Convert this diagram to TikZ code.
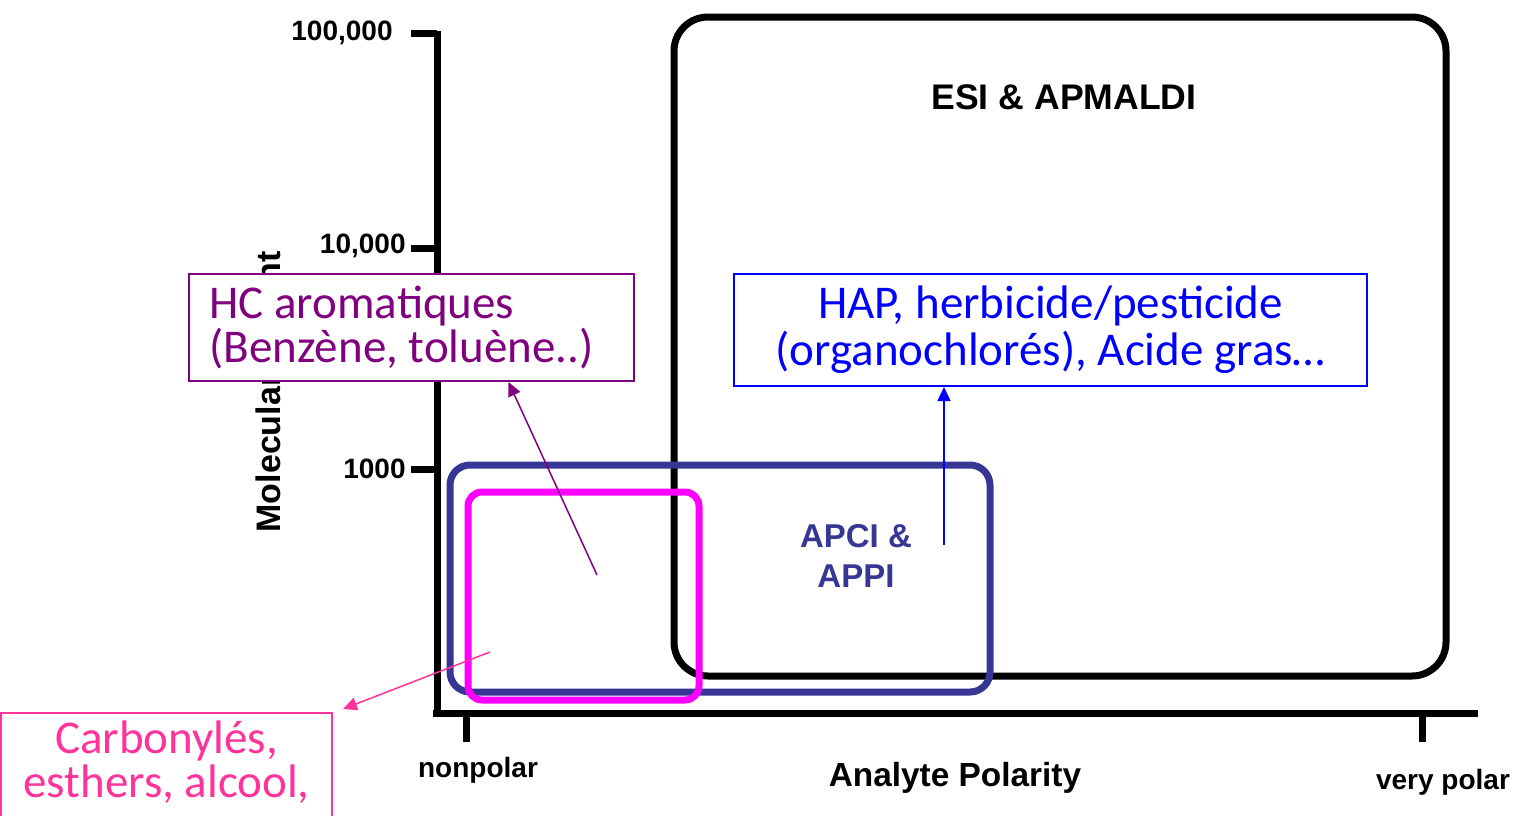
\documentclass[tikz,border=0pt]{standalone}
\usepackage{fontspec}
\setmainfont{Carlito}
\newfontfamily\chartfont{Liberation Sans}
\usetikzlibrary{arrows.meta,positioning,calc}
\definecolor{hcpurple}{HTML}{800080}
\definecolor{hapblue}{HTML}{0000FF}
\definecolor{carbpink}{HTML}{FF3399}
\definecolor{apcinavy}{HTML}{363694}
\definecolor{magbox}{HTML}{FF00FF}
\frenchspacing
\tikzset{
  axisline/.style={line width=3.5pt},
  ticklabel/.style={font=\chartfont\bfseries\fontsize{14}{16}\selectfont,inner sep=0pt},
  axislabel/.style={font=\chartfont\bfseries\fontsize{16.7}{19}\selectfont,inner sep=0pt},
  zonelabel/.style={font=\chartfont\bfseries\fontsize{17.8}{20}\selectfont,inner sep=0pt,align=center},
  zonebox/.style={line width=3.5pt},
  notebox/.style={draw=#1,text=#1,line width=1pt,fill=white,
                  font=\fontsize{23.5}{22}\selectfont,inner xsep=0pt,inner ysep=4pt},
  notearr/.style={-{Triangle[length=7pt,width=6.5pt]},line width=0.75pt}
}
\begin{document}
\begin{tikzpicture}[x=0.5pt,y=-0.5pt]
  \useasboundingbox (0,0) rectangle (1517,815);
  \clip (0,0) rectangle (1517,815);

  % axes
  \draw[axisline] (437,31) -- (437,716);
  \draw[axisline] (433,713) -- (1478,713);
  \foreach \y in {33,248,469}
    \draw[axisline] (411,\y) -- (437,\y);
  \foreach \x in {466,1422}
    \draw[axisline] (\x,713) -- (\x,742);
  \node[ticklabel,anchor=east] (t100k) at (393,33) {100,000};
  \node[ticklabel,anchor=east] (t10k) at (406,246) {10,000};
  \node[ticklabel,anchor=east] (t1k) at (406,469) {1000};
  \node[ticklabel] (npol) at (478,770) {nonpolar};
  \node[ticklabel] (vpol) at (1443,782) {very polar};
  \node[axislabel] (xlab) at (955,778) {Analyte Polarity};
  \node[axislabel,font=\chartfont\bfseries\fontsize{17}{19}\selectfont,rotate=90] (ylab) at (272,392) {Molecular Weight};

  % ionisation zones
  \draw[zonebox,rounded corners=17pt] (674,17) rectangle (1446,676);
  \node[zonelabel] (esi) at (1064,97) {ESI \& APMALDI};
  \draw[zonebox,apcinavy,rounded corners=10pt] (450,465) rectangle (990,692);
  \node[zonelabel,apcinavy,font=\chartfont\bfseries\fontsize{16.5}{20}\selectfont] (apci) at (856,556) {APCI \&\\APPI};
  \draw[zonebox,magbox,rounded corners=7pt] (468,492) rectangle (699,700);

  % notes
  \node[notebox=hcpurple,minimum width=222.5pt,minimum height=53.5pt,
        text width=202pt,align=flush left] (hc) at (411.5,327.5)
        {HC aromatiques\\(Benzène, toluène..)};
  \node[notebox=hapblue,minimum width=316.5pt,minimum height=56pt,align=center,
        font=\fontsize{23.5}{23.5}\selectfont] (hap) at (1050.5,330)
        {HAP, herbicide/pesticide\\(organochlorés), Acide gras…};
  \node[notebox=carbpink,anchor=north,minimum width=165.5pt,text width=165.5pt,
        align=flush center,text depth=30pt] (carb) at (166.5,712)
        {Carbonylés,\\esthers, alcool,};

  \coordinate (hcfrom) at (597,575);
  \coordinate (hapfrom) at (944,545);
  \coordinate (carbfrom) at (490,652);
  \draw[notearr,hcpurple] (hcfrom) -- ($(hc.south west)!0.717!(hc.south east)$);
  \draw[notearr,hapblue] (hapfrom) -- (hapfrom |- hap.south);
  \draw[notearr,carbpink] (carbfrom) -- ([shift={(10,-3)}]carb.north east);
\end{tikzpicture}
\end{document}
